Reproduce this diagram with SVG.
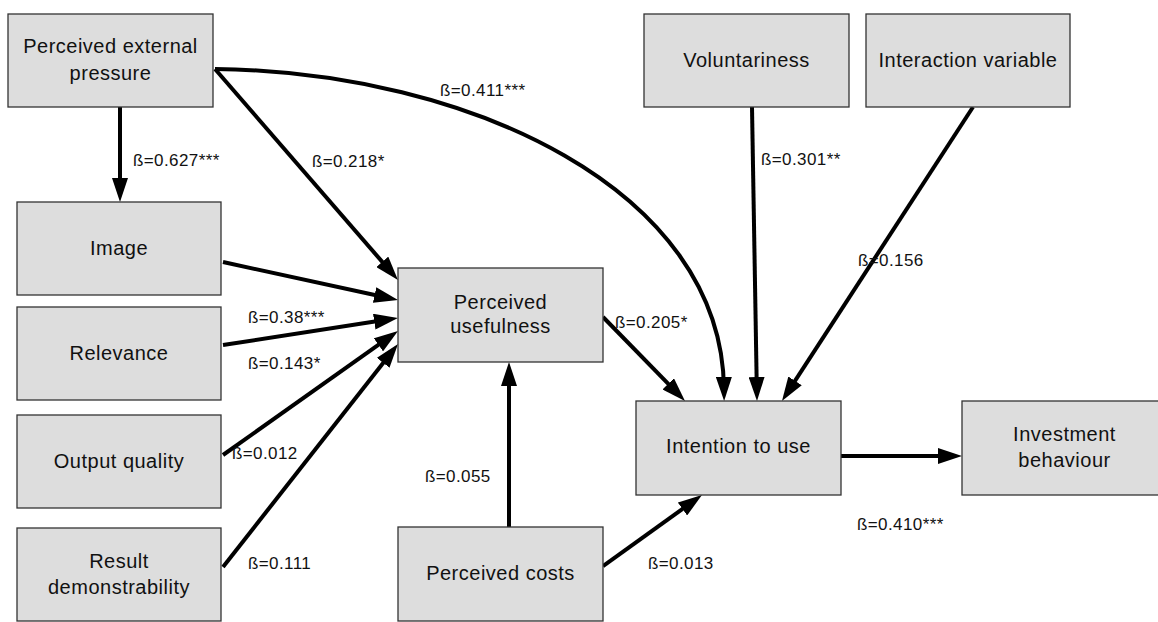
<svg xmlns="http://www.w3.org/2000/svg" width="1158" height="622" viewBox="0 0 1158 622">
<style>
.box{fill:#dddddd;stroke:#333333;stroke-width:1.3}
.nt{font-family:"Liberation Sans",Arial,sans-serif;font-size:20px;letter-spacing:0.5px;fill:#111;text-anchor:middle}
.lb{font-family:"Liberation Sans",Arial,sans-serif;font-size:17px;letter-spacing:0.4px;fill:#111}
.ln{fill:none;stroke:#000;stroke-width:4;marker-end:url(#ah)}
</style>
<defs>
<marker id="ah" markerUnits="strokeWidth" markerWidth="6" markerHeight="4" refX="3" refY="2" orient="auto">
<path d="M0,0 L6,2 L0,4 z" fill="#000"/>
</marker>
</defs>
<rect width="1158" height="622" fill="#fff"/>
<g id="connectors">
<line class="ln" x1="120" y1="107" x2="120" y2="190"/>
<line class="ln" x1="215" y1="69" x2="390.1" y2="270.9"/>
<path class="ln" d="M215,69 C470,72 722,190 724,389"/>
<line class="ln" x1="223" y1="262" x2="386.3" y2="297.5"/>
<line class="ln" x1="223" y1="345" x2="386.1" y2="319.8"/>
<line class="ln" x1="223" y1="455" x2="388.2" y2="337.9"/>
<line class="ln" x1="223" y1="567" x2="390.6" y2="353.4"/>
<line class="ln" x1="509" y1="527" x2="509" y2="374"/>
<line class="ln" x1="603" y1="317" x2="676.6" y2="392.4"/>
<line class="ln" x1="603" y1="566" x2="692.2" y2="502"/>
<line class="ln" x1="752" y1="107" x2="756.8" y2="389"/>
<line class="ln" x1="973" y1="107" x2="788.5" y2="390.9"/>
<line class="ln" x1="841" y1="456" x2="950" y2="456"/>
</g>
<g id="labels">
<text class="lb" x="133" y="166">ß=0.627***</text>
<text class="lb" x="312" y="167">ß=0.218*</text>
<text class="lb" x="440" y="96">ß=0.411***</text>
<text class="lb" x="248" y="323">ß=0.38***</text>
<text class="lb" x="248" y="369">ß=0.143*</text>
<text class="lb" x="232" y="459">ß=0.012</text>
<text class="lb" x="248" y="569">ß=0.111</text>
<text class="lb" x="615" y="328">ß=0.205*</text>
<text class="lb" x="761" y="165">ß=0.301**</text>
<text class="lb" x="858" y="266">ß=0.156</text>
<text class="lb" x="425" y="482">ß=0.055</text>
<text class="lb" x="648" y="569">ß=0.013</text>
<text class="lb" x="857" y="530">ß=0.410***</text>
</g>
<g id="pep"><rect class="box" x="8" y="14" width="205" height="93"/><text class="nt" x="110.5" y="53">Perceived external</text><text class="nt" x="110.5" y="80">pressure</text></g>
<g id="vol"><rect class="box" x="644" y="14" width="205" height="93"/><text class="nt" x="746.5" y="67">Voluntariness</text></g>
<g id="inter"><rect class="box" x="866" y="14" width="204" height="93"/><text class="nt" x="968" y="67">Interaction variable</text></g>
<g id="image"><rect class="box" x="17" y="202" width="204" height="93"/><text class="nt" x="119" y="255">Image</text></g>
<g id="relevance"><rect class="box" x="17" y="307" width="204" height="93"/><text class="nt" x="119" y="360">Relevance</text></g>
<g id="output"><rect class="box" x="17" y="415" width="204" height="93"/><text class="nt" x="119" y="468">Output quality</text></g>
<g id="result"><rect class="box" x="17" y="528" width="204" height="93"/><text class="nt" x="119" y="568">Result</text><text class="nt" x="119" y="594">demonstrability</text></g>
<g id="pu"><rect class="box" x="398" y="268" width="205" height="94"/><text class="nt" x="500.5" y="309">Perceived</text><text class="nt" x="500.5" y="333">usefulness</text></g>
<g id="intention"><rect class="box" x="636" y="401" width="205" height="94"/><text class="nt" x="738.5" y="453">Intention to use</text></g>
<g id="investment"><rect class="box" x="962" y="401" width="205" height="94"/><text class="nt" x="1064.5" y="441">Investment</text><text class="nt" x="1064.5" y="467">behaviour</text></g>
<g id="pc"><rect class="box" x="398" y="527" width="205" height="94"/><text class="nt" x="500.5" y="580">Perceived costs</text></g>
</svg>
